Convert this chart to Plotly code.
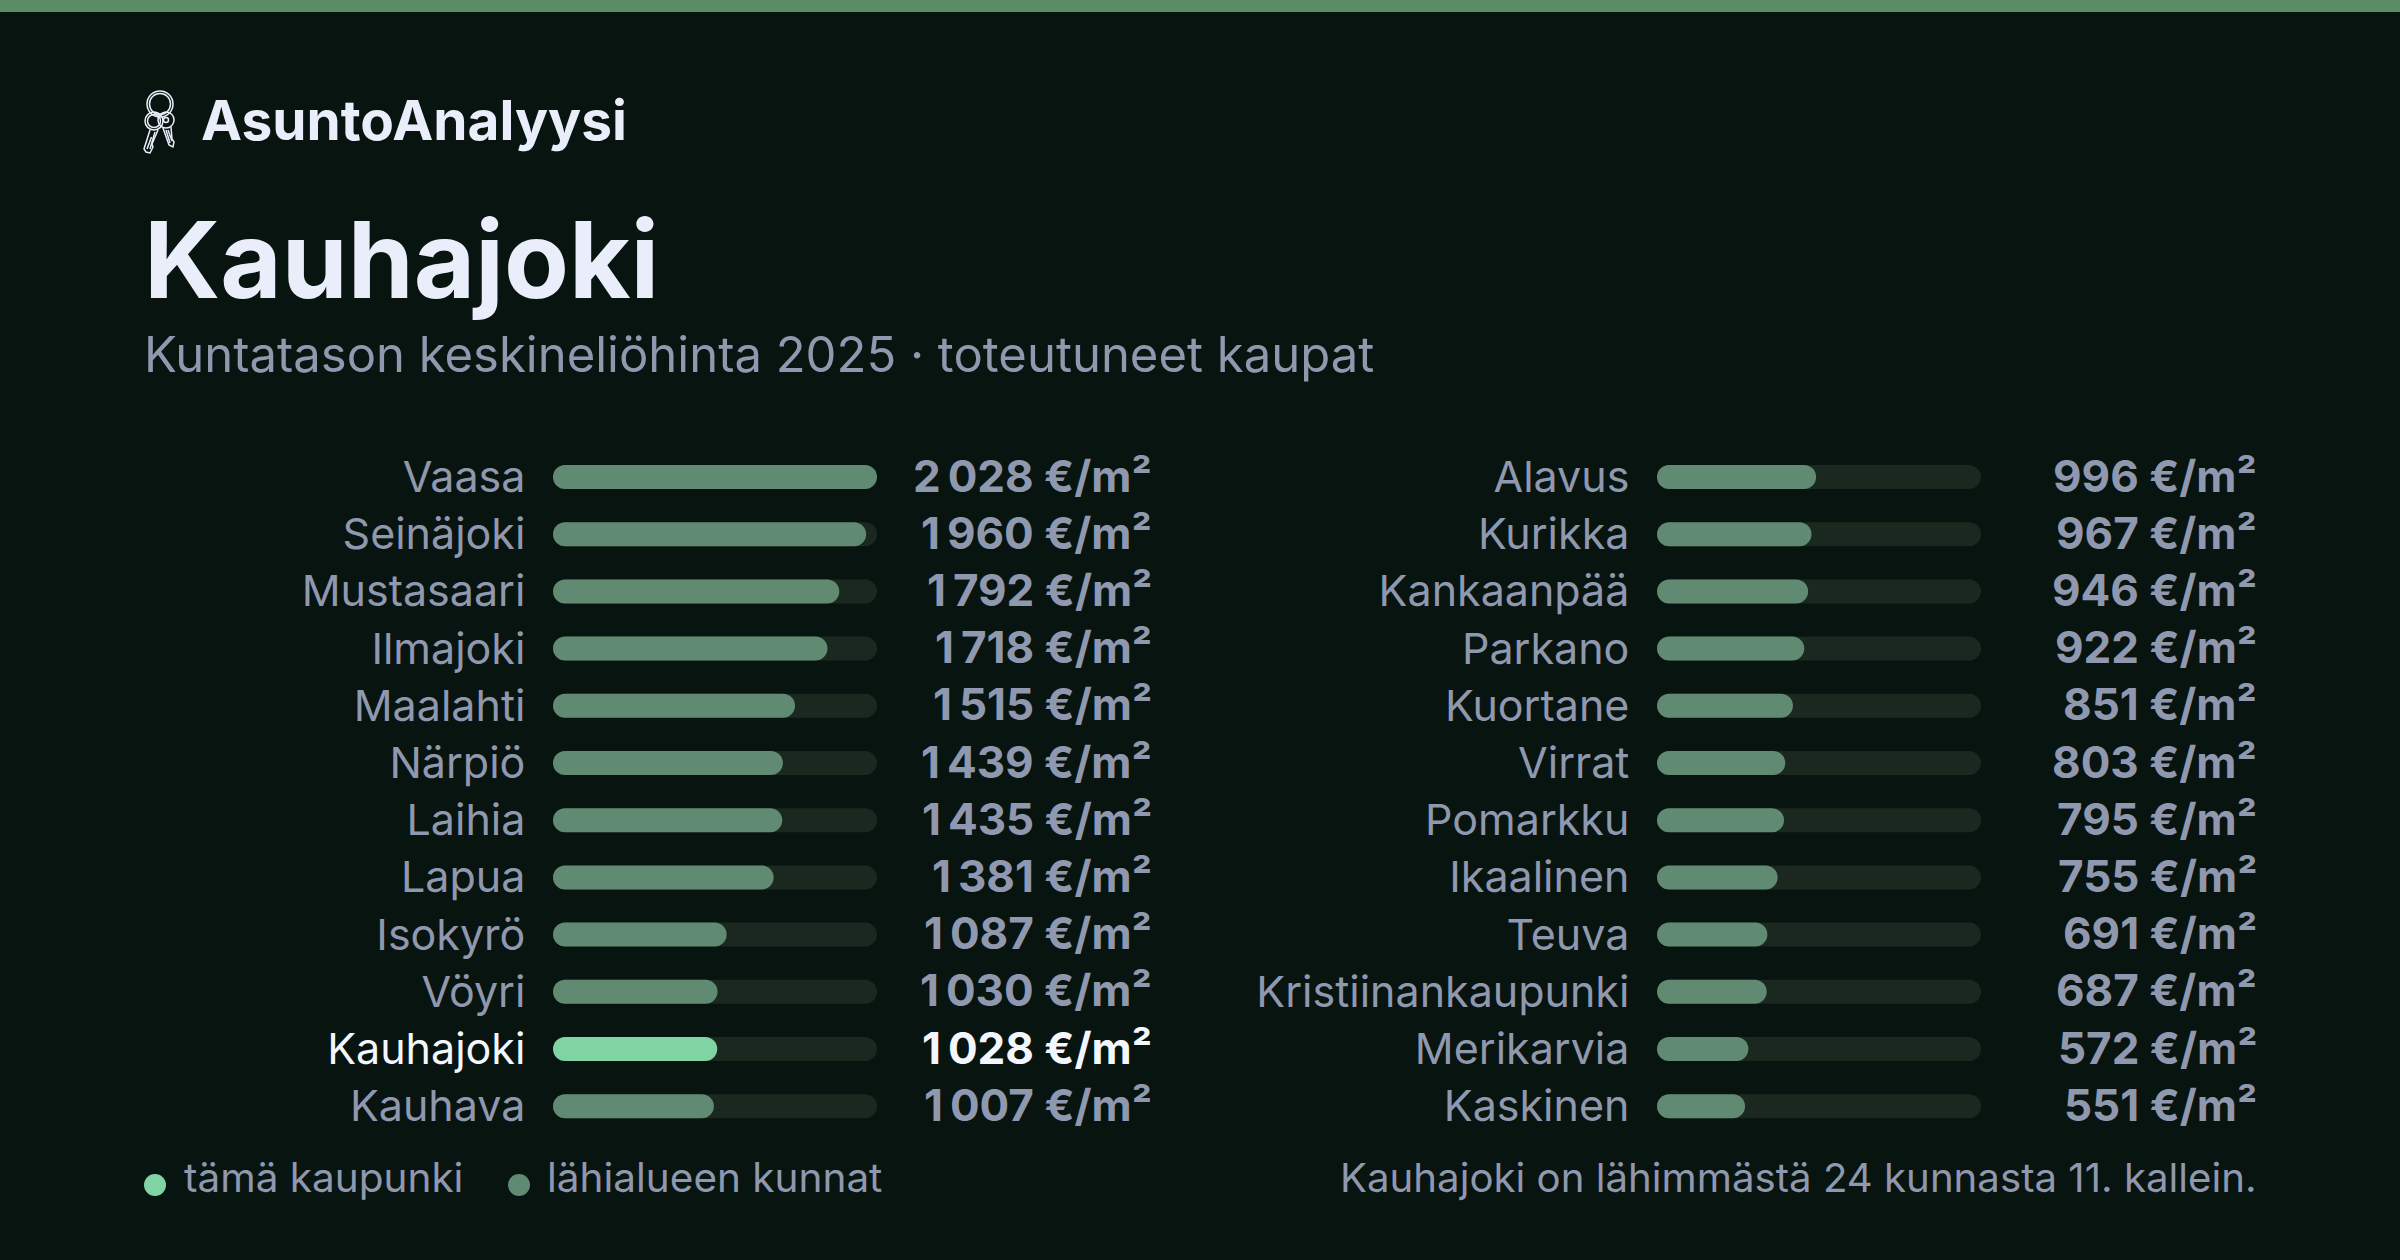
import plotly.graph_objects as go

W, H = 2400, 1260
FONT = "Inter"
BG = "#08140f"
TRACK = "#1a2820"
FILL = "#618a72"
ACCENT = "#80d4a3"
MUTED = "#8f98ae"
WHITE = "#e9eefa"

# left column
cities_left = ["Vaasa", "Seinäjoki", "Mustasaari", "Ilmajoki", "Maalahti", "Närpiö",
               "Laihia", "Lapua", "Isokyrö", "Vöyri", "Kauhajoki", "Kauhava"]
prices_left = [2028, 1960, 1792, 1718, 1515, 1439, 1435, 1381, 1087, 1030, 1028, 1007]

# right column
cities_right = ["Alavus", "Kurikka", "Kankaanpää", "Parkano", "Kuortane", "Virrat",
                "Pomarkku", "Ikaalinen", "Teuva", "Kristiinankaupunki", "Merikarvia", "Kaskinen"]
prices_right = [996, 967, 946, 922, 851, 803, 795, 755, 691, 687, 572, 551]

highlight = "Kauhajoki"
price_max = max(prices_left + prices_right)

ROW_TOP = 448.4
ROW_H = 57.2
PLOT_BOTTOM = ROW_TOP + ROW_H * 12


def px(x):
    return x / W


def py(y):
    return 1 - y / H


def fmt_price(v):
    s = f"{v:,}".replace(",", "\u202f")
    return f"{s} €/m²"


def add_text(fig, x, y, text, size, color, anchor="left", bold=False):
    fig.add_annotation(
        x=px(x), y=py(y), xref="paper", yref="paper", text=text, showarrow=False,
        xanchor=anchor, yanchor="middle",
        font=dict(family=FONT, size=size, color=color, weight=700 if bold else 400),
    )


def add_bars(fig, cities, values, color, xname, yname):
    # an explicit base makes plotly round both ends of the bar
    fig.add_trace(go.Bar(x=values, y=cities, base=[0] * len(cities), orientation="h", width=0.42,
                         xaxis=xname, yaxis=yname, showlegend=False, hoverinfo="skip",
                         marker=dict(color=color, line_width=0)))


def add_column(fig, cities, prices, xname, yname, value_right):
    colors = [ACCENT if c == highlight else FILL for c in cities]
    add_bars(fig, cities, [price_max] * len(cities), TRACK, xname, yname)
    add_bars(fig, cities, prices, colors, xname, yname)
    for i, (c, v) in enumerate(zip(cities, prices)):
        row_y = ROW_TOP + ROW_H * (i + 0.5) - 1.5
        add_text(fig, value_right, row_y, fmt_price(v), 44, "#f4f6fd" if c == highlight else MUTED,
                 anchor="right", bold=True)


def tick_labels(cities):
    return [f"<span style='color:#f4f6fd'>{c}</span>" if c == highlight else c for c in cities]


fig = go.Figure()
add_column(fig, cities_left, prices_left, "x", "y", 1154)
add_column(fig, cities_right, prices_right, "x2", "y2", 2259)

axis_x = dict(range=[0, price_max], visible=False, fixedrange=True)
axis_y = dict(autorange="reversed", showgrid=False, zeroline=False, showline=False,
              ticks="outside", ticklen=18, tickcolor="rgba(0,0,0,0)",
              tickfont=dict(family=FONT, size=43, color=MUTED),
              tickmode="array", fixedrange=True,
              domain=[py(PLOT_BOTTOM), py(ROW_TOP)])

fig.update_layout(
    width=W, height=H,
    margin=dict(l=0, r=0, t=0, b=0),
    paper_bgcolor=BG, plot_bgcolor=BG,
    barmode="overlay", barcornerradius=12,
    showlegend=False,
    xaxis=dict(axis_x, domain=[px(553), px(877)]),
    xaxis2=dict(axis_x, domain=[px(1657), px(1981)], anchor="y2"),
    yaxis=dict(axis_y, tickvals=cities_left, ticktext=tick_labels(cities_left)),
    yaxis2=dict(axis_y, tickvals=cities_right, ticktext=tick_labels(cities_right), anchor="x2"),
)

# header
add_text(fig, 199, 120, "AsuntoAnalyysi", 55, WHITE, bold=True)
add_text(fig, 142, 260, "Kauhajoki", 106, WHITE, bold=True)
add_text(fig, 142, 354, "Kuntatason keskineliöhinta 2025 · toteutuneet kaupat", 49, MUTED)

# footer
add_text(fig, 182, 1177, "tämä kaupunki", 40.5, MUTED)
add_text(fig, 545, 1177, "lähialueen kunnat", 40.5, MUTED)
add_text(fig, 2259, 1177, "Kauhajoki on lähimmästä 24 kunnasta 11. kallein.", 40.2, MUTED, anchor="right")

shapes = [
    dict(type="rect", xref="paper", yref="paper", x0=0, x1=1, y0=py(12), y1=1,
         fillcolor="#5a8c66", line_width=0, layer="below"),
    dict(type="circle", xref="paper", yref="paper", x0=px(144), x1=px(166), y0=py(1196), y1=py(1174),
         fillcolor=ACCENT, line_width=0),
    dict(type="circle", xref="paper", yref="paper", x0=px(508), x1=px(530), y0=py(1196), y1=py(1174),
         fillcolor=FILL, line_width=0),
]

# keys icon in the brand line
ICON = dict(xref="paper", yref="paper", line=dict(color=WHITE, width=1.5), fillcolor="rgba(0,0,0,0)")
for cx, cy, r in [(160, 104, 13), (160, 104, 10.5), (154, 121, 9), (154, 121, 6.5), (166, 120, 8), (166, 120, 2.5)]:
    shapes.append(dict(ICON, type="circle", x0=px(cx - r), x1=px(cx + r), y0=py(cy + r), y1=py(cy - r)))
for key in [[(150, 130), (144, 149), (146, 152), (150, 153), (153, 147), (152, 144), (158, 130)],
            [(151.5, 137), (147, 149)], [(155, 132), (150, 149)],
            [(163, 128), (169, 145), (173, 147), (174, 142), (172, 139), (171, 127)],
            [(166, 130), (170, 143)], [(168, 130), (172, 141)]]:
    path = "M " + " L ".join(f"{px(x)},{py(y)}" for x, y in key)
    shapes.append(dict(ICON, type="path", path=path))
fig.update_layout(shapes=shapes)

fig.write_html("out.html", config={"displayModeBar": False},
               post_script="document.body.style.margin='0'")
